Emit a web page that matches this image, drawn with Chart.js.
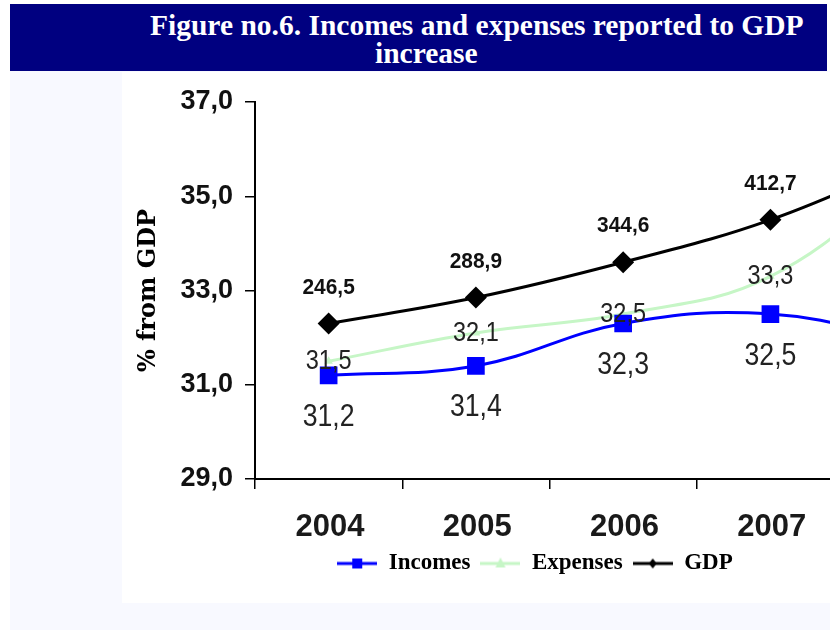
<!DOCTYPE html>
<html>
<head>
<meta charset="utf-8">
<title>Incomes and expenses reported to GDP increase</title>
<script src="https://cdn.jsdelivr.net/npm/chart.js@4.4.1/dist/chart.umd.min.js"></script>
<style>
  body { margin: 0; width: 830px; height: 630px; overflow: hidden; background: #fff; position: relative; }
  #back { position: absolute; left: 10px; top: 71px; width: 820px; height: 559px; background: #f8f9ff; }
  #band { position: absolute; left: 10px; top: 4px; width: 817px; height: 67px; background: #000080; }
  .ttl { position: absolute; color: #fff; font: bold 29.5px "Liberation Serif", "Times New Roman", serif; line-height: 28px; white-space: nowrap; }
  #panel { position: absolute; left: 122px; top: 72px; width: 708px; height: 531px; background: #fff; overflow: hidden; }
  #chart { position: absolute; left: 0; top: 0; }
</style>
</head>
<body>
<div id="back"></div>
<div id="band">
  <div class="ttl" style="left:140px; top:7px;">Figure no.6. Incomes and expenses reported to GDP</div>
  <div class="ttl" style="left:365px; top:35px;">increase</div>
</div>
<div id="panel">
  <canvas id="chart" width="818" height="531"></canvas>
</div>

<script>
// yearly values, % from GDP (the last year runs off the right edge)
const years = [2004, 2005, 2006, 2007, 2008];
const incomes = [31.2, 31.4, 32.3, 32.5, 31.9];
const expenses = [31.5, 32.1, 32.5, 33.3, 35.6];
const gdpLine = [32.3, 32.85, 33.6, 34.5, 35.8];
// GDP in bln., printed above the GDP markers
const gdpBillions = [246.5, 288.9, 344.6, 412.7];
const yTicks = [29, 31, 33, 35, 37];

const fmt = v => v.toFixed(1).replace('.', ',');

function legendIcon(color, shape, width) {
  const c = document.createElement('canvas');
  c.width = width;
  c.height = 16;
  const g = c.getContext('2d');
  g.strokeStyle = color;
  g.fillStyle = color;
  g.lineWidth = 3;
  g.beginPath();
  g.moveTo(0, 8);
  g.lineTo(width, 8);
  g.stroke();
  const m = width / 2;
  g.beginPath();
  if (shape === 'rect') {
    g.rect(m - 5, 3, 10, 10);
  } else if (shape === 'triangle') {
    g.moveTo(m, 2); g.lineTo(m + 5, 12); g.lineTo(m - 5, 12);
  } else {
    g.moveTo(m, 3); g.lineTo(m + 4, 8); g.lineTo(m, 13); g.lineTo(m - 4, 8);
  }
  g.closePath();
  g.fill();
  return c;
}

// prints the value labels next to each point (narrowed horizontally)
const valueLabels = {
  id: 'valueLabels',
  afterDatasetsDraw(chart) {
    const ctx = chart.ctx;
    chart.data.datasets.forEach((ds, di) => {
      chart.getDatasetMeta(di).data.forEach((pt, i) => {
        const v = ds.valueText[i];
        if (v === undefined) return;
        ctx.save();
        ctx.translate(pt.x, pt.y + ds.valueShift);
        ctx.scale(ds.valueStretch, 1);
        ctx.textAlign = 'center';
        ctx.textBaseline = 'middle';
        ctx.font = ds.valueFont;
        ctx.fillStyle = ds.valueColor;
        ctx.fillText(fmt(v), 0, 0);
        ctx.restore();
      });
    });
  }
};

const toPoints = arr => arr.map((v, i) => ({ x: years[i], y: v }));

new Chart(document.getElementById('chart'), {
  type: 'line',
  data: {
    datasets: [
      {
        label: 'Incomes',
        data: toPoints(incomes),
        borderColor: '#0000ff',
        backgroundColor: '#0000ff',
        borderWidth: 3,
        tension: 0.4,
        pointStyle: 'rect',
        pointRadius: 12.5,
        pointBorderWidth: 0,
        icon: legendIcon('#0000ff', 'rect', 40),
        valueText: incomes,
        valueFont: '31px "Liberation Sans", Arial, sans-serif',
        valueStretch: 0.86,
        valueColor: '#222',
        valueShift: 42
      },
      {
        label: 'Expenses',
        data: toPoints(expenses),
        borderColor: '#c6f6c6',
        backgroundColor: '#c6f6c6',
        borderWidth: 3,
        tension: 0.4,
        pointStyle: 'triangle',
        pointRadius: 5,
        pointBorderWidth: 0,
        icon: legendIcon('#c6f6c6', 'triangle', 40),
        valueText: expenses,
        valueFont: '28px "Liberation Sans", Arial, sans-serif',
        valueStretch: 0.84,
        valueColor: '#222',
        valueShift: 0
      },
      {
        label: 'GDP',
        data: toPoints(gdpLine),
        borderColor: '#000',
        backgroundColor: '#000',
        borderWidth: 3,
        tension: 0.4,
        pointStyle: 'rectRot',
        pointRadius: 11,
        pointBorderWidth: 0,
        icon: legendIcon('#000', 'diamond', 40),
        valueText: gdpBillions,
        valueFont: 'bold 22px "Liberation Sans", Arial, sans-serif',
        valueStretch: 0.95,
        valueColor: '#111',
        valueShift: -36
      }
    ]
  },
  options: {
    responsive: false,
    animation: false,
    layout: { padding: { left: 8, top: 30, right: 0, bottom: 18 } },
    plugins: {
      tooltip: { enabled: false },
      legend: {
        position: 'bottom',
        labels: {
          usePointStyle: true,
          pointStyleWidth: 40,
          padding: 10,
          color: '#000',
          font: { family: '"Liberation Serif", "Times New Roman", serif', size: 23, weight: 'bold' },
          generateLabels: chart => chart.data.datasets.map((ds, i) => ({
            text: ds.label,
            pointStyle: ds.icon,
            datasetIndex: i,
            lineWidth: 0,
            fontColor: '#000'
          }))
        }
      }
    },
    scales: {
      x: {
        type: 'linear',
        min: 2003.5,
        max: 2003.5 + 685 / 150,
        afterBuildTicks: axis => {
          axis.ticks = years.map(y => ({ value: y - 0.5 }));
        },
        afterFit: scale => { scale.height = 63; },
        grid: { drawOnChartArea: false, tickLength: 10, color: '#000', lineWidth: 1.5 },
        border: { color: '#000', width: 2 },
        ticks: {
          labelOffset: 75,
          padding: 20,
          maxRotation: 0,
          autoSkip: false,
          color: '#1a1a1a',
          font: { family: '"Liberation Sans", Arial, sans-serif', size: 31, weight: 'bold' },
          callback: v => String(v + 0.5)
        }
      },
      y: {
        min: yTicks[0],
        max: yTicks[yTicks.length - 1],
        afterBuildTicks: axis => {
          axis.ticks = yTicks.map(v => ({ value: v }));
        },
        afterFit: scale => { scale.width = 125; },
        grid: { drawOnChartArea: false, tickLength: 10, color: '#000', lineWidth: 1.5 },
        border: { color: '#000', width: 2 },
        ticks: {
          padding: 12,
          color: '#111',
          font: { family: '"Liberation Sans", Arial, sans-serif', size: 27, weight: 'bold' },
          callback: v => fmt(v)
        },
        title: {
          display: true,
          text: '% from GDP',
          color: '#000',
          padding: { top: 4, bottom: 0 },
          font: { family: '"DejaVu Serif", serif', size: 24, weight: 'bold' }
        }
      }
    }
  },
  plugins: [valueLabels]
});
</script>
</body>
</html>
